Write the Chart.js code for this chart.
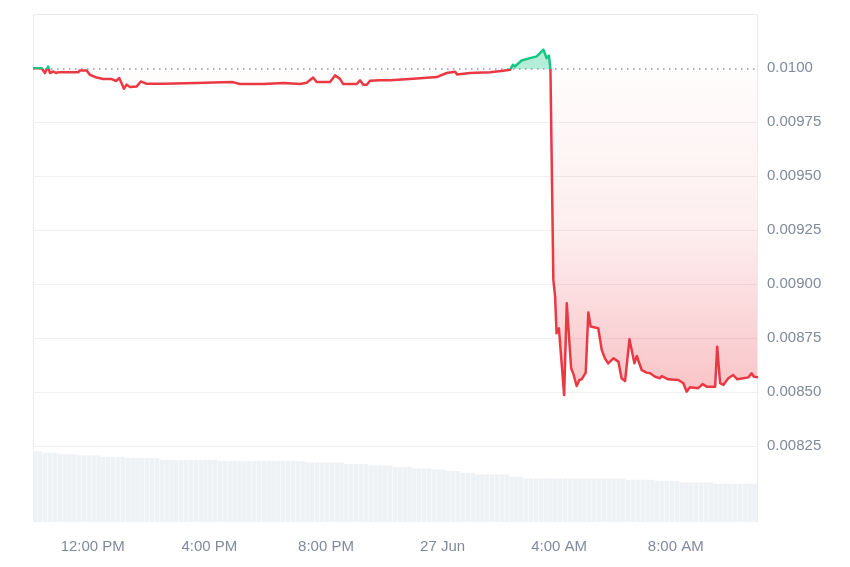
<!DOCTYPE html>
<html>
<head>
<meta charset="utf-8">
<script src="https://cdn.jsdelivr.net/npm/chart.js@4.4.1/dist/chart.umd.min.js"></script>
<style>
  body { margin: 0; background: #fff; }
  canvas { display: block; }
</style>
</head>
<body>
<canvas id="priceChart" width="850" height="567"></canvas>
<script>
// Price in hours since 26 Jun 00:00 (local)
const priceTimes = [
  9.95, 10.25, 10.36, 10.47, 10.53, 10.65, 10.74, 10.80, 11.50, 11.56,
  11.79, 11.90, 12.13, 12.36, 12.65, 12.80, 12.91, 13.07, 13.16, 13.28,
  13.51, 13.65, 13.85, 14.42, 15.56, 16.13, 16.80, 17.05, 17.85, 18.54,
  19.11, 19.34, 19.56, 19.68, 20.14, 20.31, 20.48, 20.59, 21.05, 21.17,
  21.28, 21.40, 21.51, 21.85, 22.20, 22.88, 23.80, 24.14, 24.43, 24.50,
  24.94, 25.63, 26.08, 26.31, 26.41, 26.48, 26.71, 27.00, 27.23, 27.40,
  27.46, 27.57, 27.65, 27.70, 27.80, 27.86, 27.91, 27.99, 28.17, 28.26,
  28.41, 28.48, 28.60, 28.69, 28.77, 28.91, 29.00, 29.08, 29.34, 29.46,
  29.57, 29.68, 29.86, 30.03, 30.14, 30.26, 30.41, 30.58, 30.66, 30.83,
  31.00, 31.12, 31.29, 31.46, 31.52, 31.74, 32.09, 32.26, 32.37, 32.49,
  32.77, 32.92, 33.06, 33.35, 33.42, 33.52, 33.63, 33.80, 33.97, 34.11,
  34.49, 34.60, 34.68, 34.82
];
const priceValues = [
  0.009999, 0.009999, 0.009977, 0.010007, 0.009977, 0.009984, 0.009977, 0.009980, 0.009980, 0.009989,
  0.009989, 0.009969, 0.009956, 0.009949, 0.009949, 0.009940, 0.009954, 0.009904, 0.009923, 0.009912,
  0.009915, 0.009938, 0.009927, 0.009927, 0.009931, 0.009933, 0.009935, 0.009926, 0.009926, 0.009931,
  0.009926, 0.009932, 0.009956, 0.009935, 0.009935, 0.009966, 0.009950, 0.009926, 0.009926, 0.009943,
  0.009923, 0.009923, 0.009941, 0.009943, 0.009943, 0.009949, 0.009958, 0.009977, 0.009983, 0.009970,
  0.009977, 0.009981, 0.009988, 0.009992, 0.010015, 0.010007, 0.010035, 0.010046, 0.010054, 0.010077,
  0.010085, 0.010046, 0.010057, 0.009995, 0.009020, 0.008943, 0.008773, 0.008796, 0.008487, 0.008912,
  0.008611, 0.008588, 0.008529, 0.008557, 0.008560, 0.008591, 0.008869, 0.008804, 0.008796, 0.008696,
  0.008657, 0.008634, 0.008657, 0.008642, 0.008565, 0.008552, 0.008745, 0.008634, 0.008668, 0.008603,
  0.008591, 0.008588, 0.008572, 0.008565, 0.008575, 0.008560, 0.008557, 0.008542, 0.008503, 0.008523,
  0.008519, 0.008538, 0.008526, 0.008526, 0.008711, 0.008542, 0.008534, 0.008565, 0.008580, 0.008560,
  0.008569, 0.008588, 0.008572, 0.008569
];

// 24h volume, one bar per 10 minutes
const volume = [
  139.5, 139.5, 136.2, 136.2, 136.2, 133.6, 133.6, 133.6, 133.6, 131.1,
  131.1, 131.1, 131.1, 131.1, 128.3, 128.3, 128.3, 128.3, 128.3, 125.8,
  125.8, 125.8, 125.8, 125.8, 125.8, 125.8, 122.4, 122.4, 122.4, 122.4,
  122.4, 122.4, 122.4, 122.4, 122.4, 122.4, 122.4, 122.4, 119.9, 119.9,
  119.9, 119.9, 119.9, 119.9, 119.9, 119.9, 119.9, 119.9, 119.9, 119.9,
  119.9, 119.9, 119.9, 119.9, 119.9, 119.9, 117.3, 117.3, 117.3, 117.3,
  117.3, 117.3, 117.3, 117.3, 114.0, 114.0, 114.0, 114.0, 114.0, 111.4,
  111.4, 111.4, 111.4, 111.4, 108.7, 108.7, 108.7, 108.7, 105.5, 105.5,
  105.5, 105.5, 103.6, 103.6, 103.6, 100.2, 100.2, 100.2, 96.9, 96.9,
  96.9, 93.7, 93.7, 93.7, 93.7, 93.7, 93.7, 93.7, 89.0, 89.0,
  89.0, 85.9, 85.9, 85.9, 85.9, 85.9, 85.9, 85.9, 85.9, 85.9,
  85.9, 85.9, 85.9, 85.9, 85.9, 85.9, 85.9, 85.9, 85.9, 85.9,
  85.9, 85.9, 83.1, 83.1, 83.1, 83.1, 83.1, 83.1, 80.6, 80.6,
  80.6, 80.6, 80.6, 78.0, 78.0, 78.0, 78.0, 78.0, 78.0, 78.0,
  75.3, 75.3, 75.3, 75.3, 75.3, 75.3, 75.3, 75.3, 75.3
];
const volStart = 9.95;
const volStep = 1 / 6;

const xTickHours = [12, 16, 20, 24, 28, 32];
const xTickLabels = ["12:00 PM", "4:00 PM", "8:00 PM", "27 Jun", "4:00 AM", "8:00 AM"];
const yTickValues = [0.00825, 0.0085, 0.00875, 0.009, 0.00925, 0.0095, 0.00975, 0.01];
const yTickLabels = ["0.00825", "0.00850", "0.00875", "0.00900", "0.00925", "0.00950", "0.00975", "0.0100"];

const baseline = 0.009995;
const xMin = 9.95;
const xMax = 34.82;

const GREEN = "#16c784";
const RED = "#ea3943";
const TICK_COLOR = "#808a9d";
const GRID_COLOR = "#eef0f3";

function baselineStop(chart) {
  const { chartArea, scales } = chart;
  const yb = scales.y.getPixelForValue(baseline);
  return Math.min(1, Math.max(0, (yb - chartArea.top) / (chartArea.bottom - chartArea.top)));
}

// Line colour: green above the open price, red below
function lineColor(context) {
  const chart = context.chart;
  if (!chart.chartArea) return RED;
  const { ctx, chartArea } = chart;
  const t = baselineStop(chart);
  const g = ctx.createLinearGradient(0, chartArea.top, 0, chartArea.bottom);
  g.addColorStop(0, GREEN);
  g.addColorStop(t, GREEN);
  g.addColorStop(t, RED);
  g.addColorStop(1, RED);
  return g;
}

function fillColor(context) {
  const chart = context.chart;
  if (!chart.chartArea) return "rgba(234,57,67,0.1)";
  const { ctx, chartArea, scales } = chart;
  const t = baselineStop(chart);
  const yLow = scales.y.getPixelForValue(Math.min(...priceValues));
  const tLow = Math.min(1, Math.max(t, (yLow - chartArea.top) / (chartArea.bottom - chartArea.top)));
  const g = ctx.createLinearGradient(0, chartArea.top, 0, chartArea.bottom);
  g.addColorStop(0, "rgba(22,199,132,0.32)");
  g.addColorStop(t, "rgba(22,199,132,0.32)");
  g.addColorStop(t, "rgba(234,57,67,0.01)");
  g.addColorStop(t + (tLow - t) * 0.5, "rgba(234,57,67,0.09)");
  g.addColorStop(tLow, "rgba(234,57,67,0.3)");
  g.addColorStop(1, "rgba(234,57,67,0.3)");
  return g;
}

// Thin frame on top, left and right of the plot
const framePlugin = {
  id: "frame",
  beforeDatasetsDraw(chart) {
    const { ctx, chartArea: a } = chart;
    ctx.save();
    ctx.strokeStyle = "#e9ecef";
    ctx.lineWidth = 1;
    ctx.beginPath();
    ctx.moveTo(a.left + 0.5, a.bottom);
    ctx.lineTo(a.left + 0.5, a.top + 0.5);
    ctx.lineTo(a.right - 0.5, a.top + 0.5);
    ctx.lineTo(a.right - 0.5, a.bottom);
    ctx.stroke();
    ctx.restore();
  },
};

const ctx = document.getElementById("priceChart").getContext("2d");
new Chart(ctx, {
  data: {
    datasets: [
      {
        type: "line",
        label: "Price",
        data: priceTimes.map((t, i) => ({ x: t, y: priceValues[i] })),
        borderColor: lineColor,
        backgroundColor: fillColor,
        borderWidth: 2.5,
        borderJoinStyle: "round",
        pointRadius: 0,
        tension: 0,
        fill: { value: baseline },
        yAxisID: "y",
        order: 0,
      },
      {
        type: "line",
        label: "Open",
        data: [{ x: xMin, y: baseline }, { x: xMax, y: baseline }],
        borderColor: "#8f97a6",
        borderWidth: 1.5,
        borderDash: [1.5, 4.5],
        pointRadius: 0,
        fill: false,
        yAxisID: "y",
        order: 1,
      },
      {
        type: "bar",
        label: "Volume",
        data: volume.map((v, i) => ({ x: volStart + (i + 0.5) * volStep, y: v })),
        backgroundColor: "#eff2f5",
        barPercentage: 0.94,
        categoryPercentage: 1,
        yAxisID: "yv",
        order: 2,
      },
    ],
  },
  options: {
    responsive: false,
    animation: false,
    devicePixelRatio: 1,
    layout: { padding: { left: 33, top: 14, right: 0, bottom: 0 } },
    plugins: {
      legend: { display: false },
      tooltip: { enabled: false },
      filler: { drawTime: "beforeDatasetsDraw" },
    },
    scales: {
      x: {
        type: "linear",
        offset: false,
        min: xMin,
        max: xMax,
        grid: { display: false, drawTicks: false },
        border: { display: false },
        afterBuildTicks: (axis) => {
          axis.ticks = xTickHours.map((v) => ({ value: v }));
        },
        afterFit: (axis) => {
          axis.height = 45;
          axis.paddingLeft = 0;
          axis.paddingRight = 0;
        },
        ticks: {
          autoSkip: false,
          maxRotation: 0,
          padding: 16,
          color: TICK_COLOR,
          font: { family: "Liberation Sans, Arial, sans-serif", size: 15 },
          callback: (value) => xTickLabels[xTickHours.indexOf(value)],
        },
      },
      y: {
        position: "right",
        min: 0.0079,
        max: 0.01025,
        grid: {
          drawTicks: false,
          color: (c) => (c.tick && Math.abs(c.tick.value - 0.01) < 1e-9 ? "rgba(0,0,0,0)" : GRID_COLOR),
        },
        border: { display: false },
        afterBuildTicks: (axis) => {
          axis.ticks = yTickValues.map((v) => ({ value: v }));
        },
        afterFit: (axis) => {
          axis.width = 92;
          axis.paddingTop = 0;
          axis.paddingBottom = 0;
        },
        ticks: {
          autoSkip: false,
          padding: 9,
          color: TICK_COLOR,
          font: { family: "Liberation Sans, Arial, sans-serif", size: 15 },
          callback: (value, index) => yTickLabels[index],
        },
      },
      yv: {
        display: false,
        min: 0,
        max: 1000,
      },
    },
  },
  plugins: [framePlugin],
});
</script>
</body>
</html>
